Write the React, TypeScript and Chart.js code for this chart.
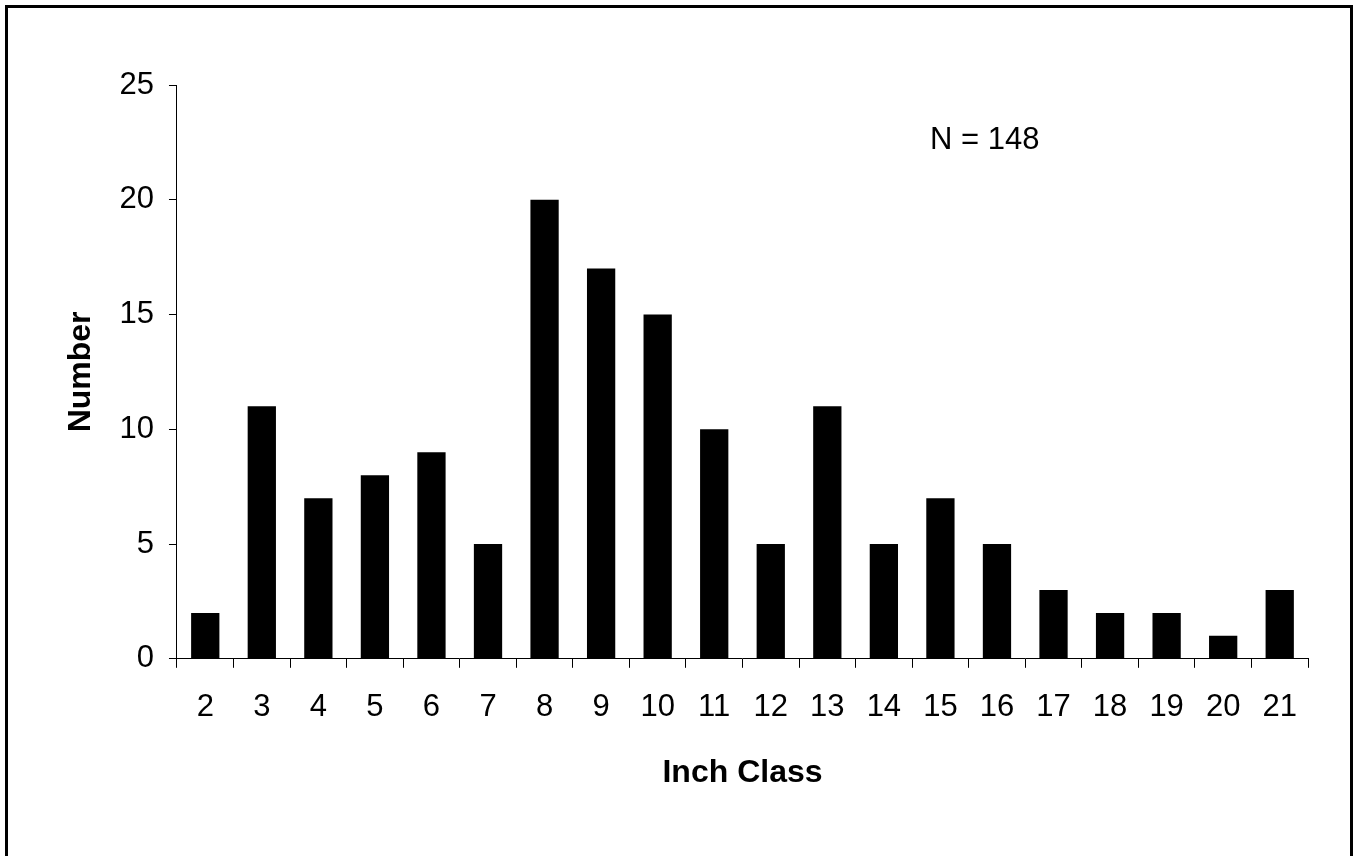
import React, { useEffect, useRef } from "react";
import { Chart, registerables } from "chart.js";

Chart.register(...registerables);

const categories = ["2", "3", "4", "5", "6", "7", "8", "9", "10", "11", "12", "13", "14", "15", "16", "17", "18", "19", "20", "21"];
const counts = [2, 11, 7, 8, 9, 5, 20, 17, 15, 10, 5, 11, 5, 7, 5, 3, 2, 2, 1, 3];
const yTicks = [0, 5, 10, 15, 20, 25];
const annotationText = "N = 148";
const xTitle = "Inch Class";
const yTitle = "Number";

const FONT = "'Liberation Sans', Arial, sans-serif";

const annotationPlugin = {
  id: "nAnnotation",
  afterDraw(chart: any) {
    const { ctx, chartArea, scales } = chart;
    const x = chartArea.left + 0.6658 * (chartArea.right - chartArea.left);
    const y = scales.y.getPixelForValue(22.2);
    ctx.save();
    ctx.font = `31px ${FONT}`;
    ctx.fillStyle = "#000";
    ctx.textAlign = "left";
    ctx.textBaseline = "alphabetic";
    ctx.fillText(annotationText, x, y);
    ctx.restore();
  },
};

export default function App() {
  const ref = useRef<HTMLCanvasElement>(null);
  useEffect(() => {
    if (!ref.current) return;
    const chart = new Chart(ref.current, {
      type: "bar",
      data: {
        labels: categories,
        datasets: [
          {
            data: counts,
            backgroundColor: "#000",
            borderColor: "#000",
            borderWidth: 0,
            barPercentage: 0.5,
            categoryPercentage: 1.0,
          },
        ],
      },
      options: {
        responsive: false,
        animation: false,
        layout: { padding: { left: 20, right: 46, top: 85, bottom: 64 } },
        plugins: { legend: { display: false }, tooltip: { enabled: false } },
        scales: {
          x: {
            offset: true,
            grid: { display: true, drawOnChartArea: false, offset: true, tickLength: 9, color: "#000", lineWidth: 1 },
            border: { display: true, color: "#000", width: 1 },
            ticks: { color: "#000", font: { family: FONT, size: 31 }, padding: 21, maxRotation: 0, autoSkip: false },
            title: { display: true, text: xTitle, color: "#000", font: { family: FONT, size: 32, weight: "bold" }, padding: { top: 6.6, bottom: 0 } },
          },
          y: {
            min: yTicks[0],
            max: yTicks[yTicks.length - 1],
            afterBuildTicks: (scale: any) => {
              scale.ticks = yTicks.map((v) => ({ value: v }));
            },
            grid: { display: true, drawOnChartArea: false, tickLength: 8, color: "#000", lineWidth: 1 },
            border: { display: true, color: "#000", width: 1 },
            ticks: { color: "#000", font: { family: FONT, size: 31 }, padding: 15 },
            title: { display: true, text: yTitle, color: "#000", font: { family: FONT, size: 32, weight: "bold" }, padding: { top: 41.8, bottom: 4.3 } },
          },
        },
      },
      plugins: [annotationPlugin],
    });
    return () => chart.destroy();
  }, []);

  return (
    <div>
      <div
        style={{
          position: "fixed",
          left: 5,
          top: 5,
          width: 1348,
          height: 854,
          border: "3px solid #000",
          boxSizing: "border-box",
        }}
      />
      <canvas
        ref={ref}
        width={1354}
        height={856}
        style={{ position: "fixed", left: 0, top: 0, width: 1354, height: 856 }}
      />
    </div>
  );
}
